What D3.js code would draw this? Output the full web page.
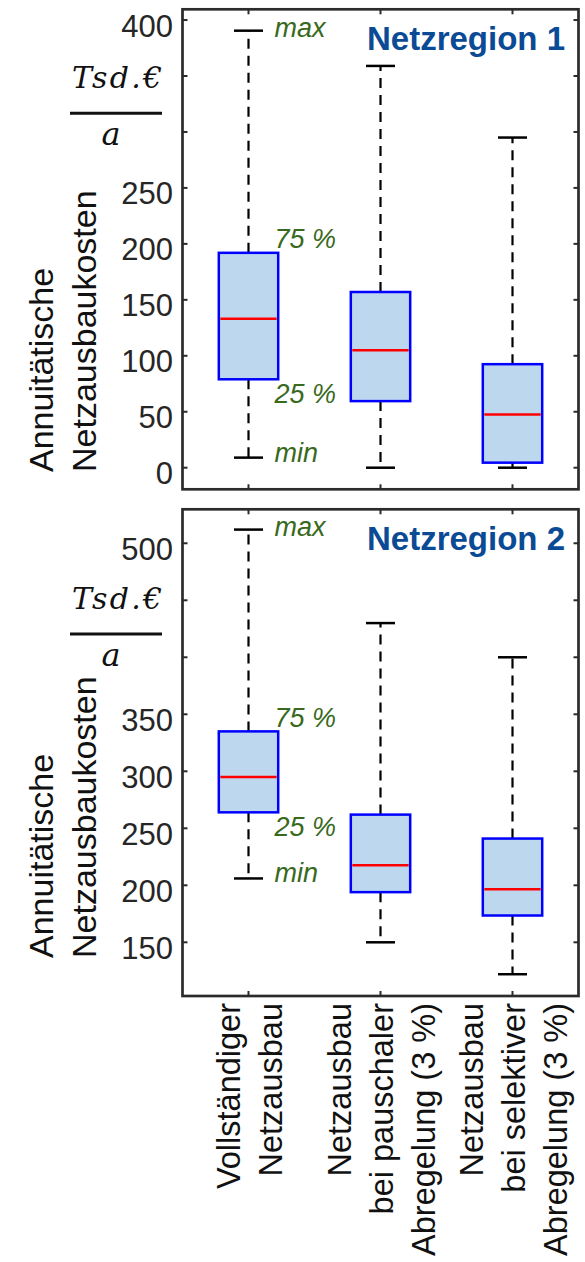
<!DOCTYPE html>
<html>
  <head>
    <meta charset="utf-8">
    <title>Netzausbaukosten</title>
    <script src="https://d3js.org/d3.v7.min.js"></script>
    <style>
      body { margin: 0; background: #fff; }
      text { font-family: "Liberation Sans", Arial, sans-serif; }
    </style>
  </head>
  <body>
    <script type="text/javascript">
      // categories (x labels, one entry per line)
      var categories = [
        ['Vollständiger', 'Netzausbau'],
        ['Netzausbau', 'bei pauschaler', 'Abregelung (3 %)'],
        ['Netzausbau', 'bei selektiver', 'Abregelung (3 %)']
      ];

      // Netzregion 1 (Tsd.€/a)
      var r1Min    = [9, 0, 0];
      var r1Q1     = [79, 59.5, 4.5];
      var r1Median = [133, 105, 47.5];
      var r1Q3     = [192, 157, 92.5];
      var r1Max    = [390.5, 359, 295];
      var r1Ticks  = [0, 50, 100, 150, 200, 250, 300, 350, 400];
      var r1Labels = ['0', '50', '100', '150', '200', '250', '', '', '400'];

      // Netzregion 2 (Tsd.€/a)
      var r2Min    = [206, 150, 122];
      var r2Q1     = [264, 194, 173.5];
      var r2Median = [295, 217.5, 196.5];
      var r2Q3     = [335, 262, 241];
      var r2Max    = [512, 430, 400];
      var r2Ticks  = [150, 200, 250, 300, 350, 400, 450, 500];
      var r2Labels = ['150', '200', '250', '300', '350', '', '', '500'];

      var notes = ['max', '75 %', '25 %', 'min'];

      var panels = [
        { title: 'Netzregion 1', min: r1Min, q1: r1Q1, med: r1Median, q3: r1Q3, max: r1Max,
          ticks: r1Ticks, labels: r1Labels, domain: [-19.3, 409.6], top: 9.3, bottom: 489.3,
          unitY: 113.3, titleY: 472 },
        { title: 'Netzregion 2', min: r2Min, q1: r2Q1, med: r2Median, q3: r2Q3, max: r2Max,
          ticks: r2Ticks, labels: r2Labels, domain: [102.9, 529.8], top: 509.3, bottom: 996,
          unitY: 634, titleY: 958 }
      ];

      var left = 182.5, right = 578.5;
      var svg = d3.select('body').append('svg')
                  .attr('width', 585)
                  .attr('height', 1262);

      var x = d3.scaleLinear().domain([0.5, 3.5]).range([left, right]);
      var boxW = x(1.45) - x(1);
      var capW = x(1.22) - x(1);
      var green = '#38691c';
      var frameCol = '#2b2b2b';

      panels.forEach(function (p) {
        var y = d3.scaleLinear().domain(p.domain).range([p.bottom, p.top]);
        var g = svg.append('g');
        var idx = [0, 1, 2];

        // whiskers
        [['q3', 'max'], ['q1', 'min']].forEach(function (pair) {
          g.selectAll('.wh-' + pair[1]).data(idx).enter().append('line')
            .attr('x1', function (i) { return x(i + 1); })
            .attr('x2', function (i) { return x(i + 1); })
            .attr('y1', function (i) { return y(p[pair[0]][i]); })
            .attr('y2', function (i) { return y(p[pair[1]][i]); })
            .attr('stroke', '#000').attr('stroke-width', 2.2).attr('stroke-dasharray', '10,7');
        });
        // caps
        ['min', 'max'].forEach(function (k) {
          g.selectAll('.cap-' + k).data(idx).enter().append('line')
            .attr('x1', function (i) { return x(i + 1) - capW / 2; })
            .attr('x2', function (i) { return x(i + 1) + capW / 2; })
            .attr('y1', function (i) { return y(p[k][i]); })
            .attr('y2', function (i) { return y(p[k][i]); })
            .attr('stroke', '#000').attr('stroke-width', 2.5);
        });
        // boxes
        g.selectAll('.box').data(idx).enter().append('rect')
          .attr('x', function (i) { return x(i + 1) - boxW / 2; })
          .attr('y', function (i) { return y(p.q3[i]); })
          .attr('width', boxW)
          .attr('height', function (i) { return y(p.q1[i]) - y(p.q3[i]); })
          .attr('fill', '#bdd7ee').attr('stroke', '#0000ff').attr('stroke-width', 2.5);
        // medians
        g.selectAll('.med').data(idx).enter().append('line')
          .attr('x1', function (i) { return x(i + 1) - boxW / 2 + 1.5; })
          .attr('x2', function (i) { return x(i + 1) + boxW / 2 - 1.5; })
          .attr('y1', function (i) { return y(p.med[i]); })
          .attr('y2', function (i) { return y(p.med[i]); })
          .attr('stroke', '#ff0000').attr('stroke-width', 2.5);

        // frame with inward ticks
        g.append('rect')
          .attr('x', left).attr('y', p.top)
          .attr('width', right - left).attr('height', p.bottom - p.top)
          .attr('fill', 'none').attr('stroke', frameCol).attr('stroke-width', 2.7);
        g.selectAll('.ytl').data(p.ticks).enter().append('line')
          .attr('x1', left).attr('x2', left + 5)
          .attr('y1', function (d) { return y(d); }).attr('y2', function (d) { return y(d); })
          .attr('stroke', frameCol).attr('stroke-width', 2);
        g.selectAll('.ytr').data(p.ticks).enter().append('line')
          .attr('x1', right).attr('x2', right - 5)
          .attr('y1', function (d) { return y(d); }).attr('y2', function (d) { return y(d); })
          .attr('stroke', frameCol).attr('stroke-width', 2);
        g.selectAll('.xtt').data(idx).enter().append('line')
          .attr('x1', function (i) { return x(i + 1); }).attr('x2', function (i) { return x(i + 1); })
          .attr('y1', p.top).attr('y2', p.top + 5)
          .attr('stroke', frameCol).attr('stroke-width', 2);
        g.selectAll('.xtb').data(idx).enter().append('line')
          .attr('x1', function (i) { return x(i + 1); }).attr('x2', function (i) { return x(i + 1); })
          .attr('y1', p.bottom).attr('y2', p.bottom - 5)
          .attr('stroke', frameCol).attr('stroke-width', 2);

        // tick labels
        g.selectAll('.yl').data(p.ticks).enter().append('text')
          .attr('x', 173)
          .attr('y', function (d) { return y(d) + 6; })
          .attr('dominant-baseline', 'central')
          .attr('text-anchor', 'end')
          .attr('font-size', 31)
          .attr('fill', '#262626')
          .text(function (d, i) { return p.labels[i]; });

        // unit fraction
        var u = g.append('g').attr('font-style', 'italic');
        u.append('text').attr('x', 117).attr('y', p.unitY - 25).attr('text-anchor', 'middle')
          .attr('font-size', 30).attr('textLength', 90).attr('fill', '#111')
          .style('font-family', '"DejaVu Serif", serif').text('Tsd.€');
        u.append('line').attr('x1', 70).attr('x2', 162).attr('y1', p.unitY).attr('y2', p.unitY)
          .attr('stroke', '#111').attr('stroke-width', 3);
        u.append('text').attr('x', 111).attr('y', p.unitY + 32).attr('text-anchor', 'middle')
          .attr('font-size', 32).attr('fill', '#111')
          .style('font-family', '"DejaVu Serif", serif').text('a');

        // y axis title
        var t = g.append('text')
          .attr('transform', 'translate(0,' + p.titleY + ') rotate(-90)')
          .attr('font-size', 34).attr('fill', '#111');
        t.append('tspan').attr('x', 0).attr('y', 53).text('Annuitätische');
        t.append('tspan').attr('x', 0).attr('y', 96).text('Netzausbaukosten');

        // region title
        g.append('text')
          .attr('x', 565).attr('y', p.top + 40.5)
          .attr('text-anchor', 'end')
          .attr('font-size', 33).attr('font-weight', 'bold')
          .attr('fill', '#0b4a94')
          .text(p.title);

        // annotations next to the first box
        var noteVals = [p.max[0], p.q3[0], p.q1[0], p.min[0]];
        var noteOff = [6.5, -4.5, 23.5, 4];
        g.selectAll('.note').data(notes).enter().append('text')
          .attr('x', x(1) + 26)
          .attr('y', function (d, i) { return y(noteVals[i]) + noteOff[i]; })
          .attr('font-size', 27).attr('font-style', 'italic')
          .attr('fill', green)
          .text(function (d) { return d; });
      });

      // category labels under the lower panel
      var cl = svg.append('g');
      categories.forEach(function (lines, c) {
        var n = lines.length;
        lines.forEach(function (s, k) {
          var bx = x(c + 1) + (k - (n - 1) / 2) * 42 + 12;
          cl.append('text')
            .attr('transform', 'translate(' + bx + ',1003) rotate(-90)')
            .attr('text-anchor', 'end')
            .attr('font-size', 32.5)
            .attr('fill', '#111')
            .text(s);
        });
      });
    </script>
  </body>
</html>
